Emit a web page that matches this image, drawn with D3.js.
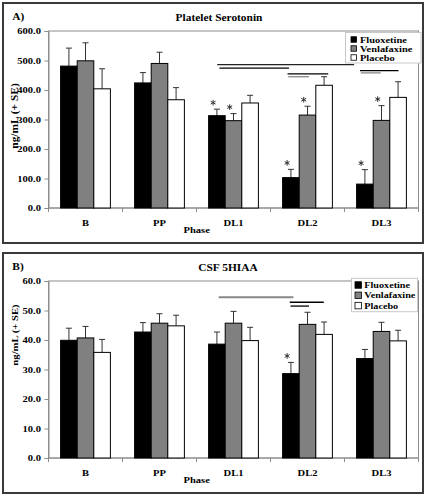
<!DOCTYPE html>
<html><head><meta charset="utf-8">
<script src="https://cdn.jsdelivr.net/npm/d3@7/dist/d3.min.js"></script>
<style>body{margin:0;background:#fff}svg{display:block}text{font-family:"Liberation Serif","Times New Roman",serif;font-weight:bold}</style>
</head><body><svg id="c" width="427" height="496"></svg>
<script>
const categories = ["B","PP","DL1","DL2","DL3"];
const series = ["Fluoxetine","Venlafaxine","Placebo"];
// Panel A: Platelet Serotonin
const plateletFluox = [481, 424, 313, 103, 81];
const plateletVenla = [499, 490, 296, 315, 297];
const plateletPlac  = [404, 367, 356, 416, 375];
const plateletFluoxSE = [61, 35, 22, 28, 49];
const plateletVenlaSE = [61, 38, 24, 30, 50];
const plateletPlacSE  = [68, 41, 26, 29, 53];
const plateletTicks = [0,100,200,300,400,500,600];
const plateletStars = [["DL1","Fluoxetine"],["DL1","Venlafaxine"],["DL2","Fluoxetine"],["DL2","Venlafaxine"],["DL3","Fluoxetine"],["DL3","Venlafaxine"]];
const plateletSig = [["DL1",0.28,"DL3",0.13,486,"#222"],["DL1",0.31,"DL2",0.25,474,"#000"],["DL2",0.23,"DL2",0.78,455,"#000"],["DL2",0.24,"DL2",0.52,445,"#888"],["DL3",0.21,"DL3",0.73,466,"#000"],["DL3",0.22,"DL3",0.49,458,"#888"]];
// Panel B: CSF 5HIAA
const csfFluox = [39.9, 42.7, 38.6, 28.6, 33.7];
const csfVenla = [40.7, 45.7, 45.7, 45.3, 42.9];
const csfPlac  = [35.8, 44.8, 39.8, 41.9, 39.7];
const csfFluoxSE = [4.1, 3.2, 4.1, 3.8, 3.1];
const csfVenlaSE = [3.9, 3.2, 4.0, 4.1, 3.1];
const csfPlacSE  = [4.4, 3.6, 4.5, 4.2, 3.6];
const csfTicks = [0,10,20,30,40,50,60];
const csfStars = [["DL2","Fluoxetine"]];
const csfSig = [["DL1",0.30,"DL2",0.31,54.5,"#888"],["DL2",0.26,"DL2",0.72,52.8,"#000"],["DL2",0.27,"DL2",0.52,51.5,"#000"]];

const colors = {"Fluoxetine":"#000","Venlafaxine":"#808080","Placebo":"#fff"};
const svg = d3.select("#c");
const SX = 1.2;

function txt(g, x, y, s, size, anchor, sx, rot){
  return g.append("text").attr("transform",`translate(${x},${y})`+(rot?` rotate(${rot})`:"")+` scale(${sx||SX},1)`)
    .attr("text-anchor",anchor||"start").attr("font-size",size).attr("fill","#000").text(s);
}

function panel(cfg){
  const g = svg.append("g").attr("transform",`translate(0,${cfg.oy})`);
  g.append("rect").attr("x",3).attr("y",3).attr("width",420).attr("height",240).attr("fill","#fff").attr("stroke","#3a3a3a").attr("stroke-width",2);
  const x0 = d3.scaleBand().domain(categories).range([48.5,418.5]);
  const x1 = d3.scaleBand().domain(series).range([0,x0.step()]).paddingOuter(0.73);
  const y = d3.scaleLinear().domain([0,cfg.max]).range([208,31]);
  g.append("rect").attr("x",48.5).attr("y",y(cfg.max)).attr("width",370).attr("height",y(0)-y(cfg.max)).attr("fill","none").attr("stroke","#8c8c8c");
  const ya = g.append("g").attr("transform","translate(48.5,0)").call(d3.axisLeft(y).tickValues(cfg.ticks).tickFormat(d3.format(".1f")).tickSize(4));
  ya.select(".domain").attr("stroke","#8c8c8c");
  ya.selectAll(".tick line").attr("stroke","#8c8c8c");
  ya.selectAll(".tick text").attr("x",0).attr("dy","0.34em").attr("transform",`translate(-7.5,0) scale(${SX},1)`)
    .attr("font-size",8.8).attr("font-family",null).attr("fill","#000");
  g.append("g").selectAll("line").data(categories.map(c=>x0(c)).concat([x0.range()[1]])).join("line")
    .attr("x1",d=>d).attr("x2",d=>d).attr("y1",y(0)).attr("y2",y(0)+4).attr("stroke","#8c8c8c");
  g.append("line").attr("x1",48.5).attr("x2",418.5).attr("y1",y(0)).attr("y2",y(0)).attr("stroke","#8c8c8c");
  categories.forEach(c=>txt(g, x0(c)+x0.bandwidth()/2, y(0)+17.7, c, 8.8, "middle"));
  const rows = [];
  series.forEach((s,si)=>categories.forEach((c,ci)=>rows.push({c,s,v:cfg.vals[si][ci],e:cfg.se[si][ci]})));
  const bx = d=>x0(d.c)+x1(d.s);
  g.append("g").selectAll("line").data(rows).join("line")
    .attr("x1",d=>bx(d)+x1.bandwidth()/2).attr("x2",d=>bx(d)+x1.bandwidth()/2)
    .attr("y1",d=>y(d.v)).attr("y2",d=>y(d.v+d.e)).attr("stroke","#333");
  g.append("g").selectAll("line").data(rows).join("line")
    .attr("x1",d=>bx(d)+x1.bandwidth()/2-3).attr("x2",d=>bx(d)+x1.bandwidth()/2+3)
    .attr("y1",d=>y(d.v+d.e)).attr("y2",d=>y(d.v+d.e)).attr("stroke","#333");
  g.append("g").selectAll("rect").data(rows).join("rect")
    .attr("x",bx).attr("width",x1.bandwidth()).attr("y",d=>y(d.v)).attr("height",d=>y(0)-y(d.v))
    .attr("fill",d=>colors[d.s]).attr("stroke","#000").attr("stroke-width",1);
  // stars
  const star = d3.symbol(d3.symbolAsterisk, 22);
  cfg.stars.forEach(([c,s])=>{
    const r = rows.find(d=>d.c===c&&d.s===s);
    g.append("path").attr("d",star()).attr("transform",`translate(${bx(r)+4.5},${y(r.v+r.e)-6.5})`)
      .attr("fill","none").attr("stroke","#333").attr("stroke-width",1);
  });
  cfg.sig.forEach(([c1,f1,c2,f2,v,col])=>{
    g.append("line").attr("x1",x0(c1)+f1*x0.step()).attr("x2",x0(c2)+f2*x0.step())
      .attr("y1",y(v)).attr("y2",y(v)).attr("stroke",col).attr("stroke-width",col==="#888"&&cfg.oy>0?1.8:1.3);
  });
  const L = cfg.leg;
  g.append("rect").attr("x",L.x).attr("y",L.y).attr("width",L.w).attr("height",L.h).attr("fill","#fff").attr("stroke","#c8c8c8");
  series.forEach((s,i)=>{
    const cy = L.r0 + i*L.dy;
    g.append("rect").attr("x",L.sx).attr("y",cy-L.sq/2).attr("width",L.sq).attr("height",L.sq).attr("fill",colors[s]).attr("stroke","#000").attr("stroke-width",0.8);
    txt(g, L.tx, cy+3, s, L.fs, "start", L.sxs);
  });
  txt(g, 12.3, 20.3, cfg.label, 9.5, "start");
  txt(g, cfg.tcx, 20.5, cfg.title, 9.5, "middle");
  txt(g, 196.7, 233.3, "Phase", 8.8, "middle");
  txt(g, 18, cfg.ylc, "ng/mL (+ SE)", cfg.yfs, "middle", SX, -90);
}

panel({oy:0, max:600, ticks:plateletTicks, vals:[plateletFluox,plateletVenla,plateletPlac], se:[plateletFluoxSE,plateletVenlaSE,plateletPlacSE],
  stars:plateletStars, sig:plateletSig, label:"A)", title:"Platelet Serotonin", tcx:219, ylc:116, yfs:9.5,
  leg:{x:345.5,y:32.5,w:75.5,h:30.5,r0:39.5,dy:9,sq:5.5,sx:351,tx:360,fs:8.7,sxs:1.2}});
panel({oy:250, max:60, ticks:csfTicks, vals:[csfFluox,csfVenla,csfPlac], se:[csfFluoxSE,csfVenlaSE,csfPlacSE],
  stars:csfStars, sig:csfSig, label:"B)", title:"CSF 5HIAA", tcx:228, ylc:85, yfs:8.9,
  leg:{x:351.5,y:28.3,w:66,h:33.4,r0:35,dy:10.3,sq:6.5,sx:355,tx:364.3,fs:8.7,sxs:1.17}});
</script></body></html>
